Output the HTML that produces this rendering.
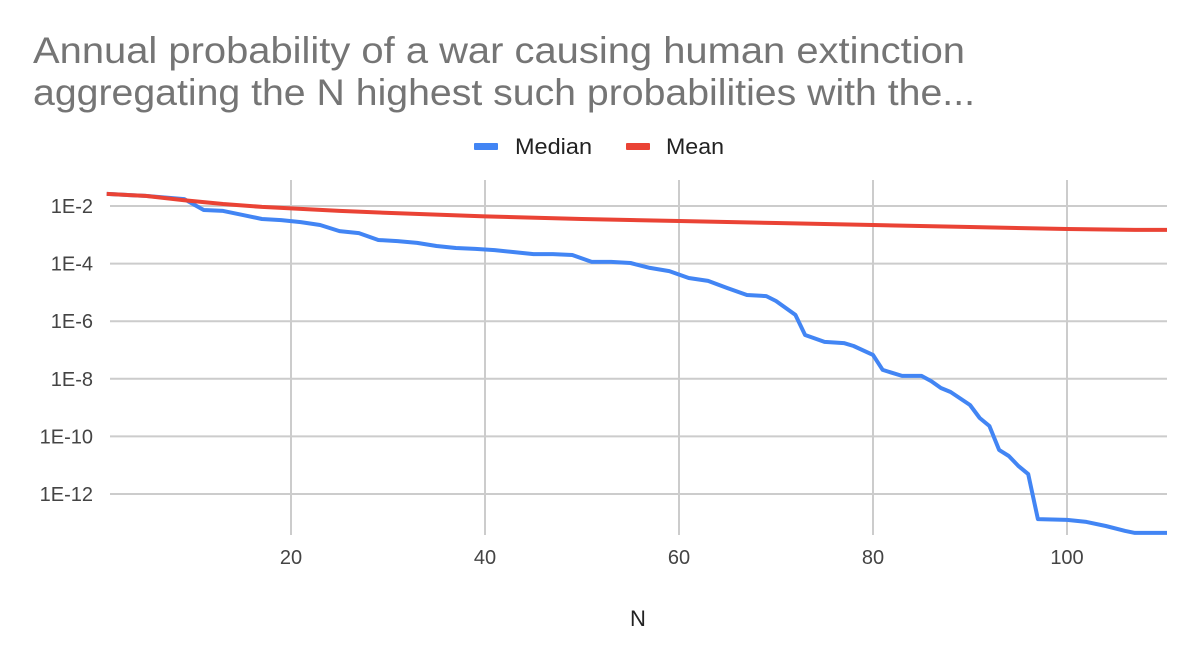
<!DOCTYPE html>
<html><head><meta charset="utf-8"><style>
body{margin:0;background:#fff;font-family:"Liberation Sans",Arial,sans-serif}
</style></head><body>
<svg id="c" width="1200" height="663" xmlns="http://www.w3.org/2000/svg">
<rect width="1200" height="663" fill="#fff"/>
<text x="33" y="63" font-size="37" fill="#757575" textLength="932" lengthAdjust="spacingAndGlyphs">Annual probability of a war causing human extinction</text>
<text x="33" y="105" font-size="37" fill="#757575" textLength="942" lengthAdjust="spacingAndGlyphs">aggregating the N highest such probabilities with the...</text>
<g>
<g><rect x="474" y="143" width="24" height="7" rx="1" fill="#4285f4"/><text x="515" y="154" font-size="22" fill="#222" textLength="77" lengthAdjust="spacingAndGlyphs">Median</text></g>
<g><rect x="626" y="143" width="24" height="7" rx="1" fill="#ea4335"/><text x="666" y="154" font-size="22" fill="#222" textLength="58" lengthAdjust="spacingAndGlyphs">Mean</text></g>
</g>
<g id="grid"></g><g id="axes"></g><g id="series"></g>
<text x="638" y="626" font-size="22" text-anchor="middle" fill="#222">N</text>
</svg>
<script>
const medianN=[1,5,9,11,13,15,17,19,21,23,25,27,29,31,33,35,37,39,41,43,45,47,49,51,53,55,57,59,61,63,65,67,69,70,72,73,75,77,78,80,81,83,85,86,87,88,90,91,92,93,94,95,96,97,100,102,104,106,107,111];
const medianLog10=[-1.58,-1.65,-1.76,-2.14,-2.17,-2.31,-2.45,-2.49,-2.56,-2.66,-2.87,-2.94,-3.18,-3.22,-3.28,-3.39,-3.46,-3.49,-3.53,-3.60,-3.67,-3.67,-3.70,-3.94,-3.94,-3.98,-4.15,-4.26,-4.50,-4.60,-4.85,-5.09,-5.13,-5.30,-5.78,-6.48,-6.72,-6.76,-6.86,-7.17,-7.69,-7.90,-7.90,-8.08,-8.32,-8.46,-8.91,-9.36,-9.64,-10.47,-10.68,-11.03,-11.31,-12.87,-12.90,-12.97,-13.11,-13.28,-13.35,-13.35];
const meanN=[1,5,9,13,17,21,25,30,40,50,60,70,80,90,100,107,111];
const meanLog10=[-1.58,-1.65,-1.80,-1.93,-2.03,-2.10,-2.17,-2.24,-2.36,-2.45,-2.52,-2.59,-2.66,-2.73,-2.80,-2.83,-2.83];
const xTicks=[20,40,60,80,100];
const yTicks=[-2,-4,-6,-8,-10,-12];
const yTickLabels=["1E-2","1E-4","1E-6","1E-8","1E-10","1E-12"];
const L=110,R=1167;
const xs=n=>97+9.7*n;
const ys=l=>206-(l+2)*28.8;
const NS="http://www.w3.org/2000/svg";
function mk(t,a,p){const e=document.createElementNS(NS,t);for(const k in a)e.setAttribute(k,a[k]);p.appendChild(e);return e;}
const grid=document.getElementById('grid'),axes=document.getElementById('axes'),ser=document.getElementById('series');
yTicks.forEach((t,i)=>{
 const g=mk('line',{x1:L,x2:R,y1:ys(t),y2:ys(t),stroke:'#cccccc','stroke-width':2},grid);
 
 
 const tx=mk('text',{x:93,y:ys(t)+7,'font-size':20,'text-anchor':'end',fill:'#444'},axes);
 tx.textContent=yTickLabels[i];
 
 
});
xTicks.forEach(t=>{
 const g=mk('line',{x1:xs(t),x2:xs(t),y1:180,y2:535,stroke:'#cccccc','stroke-width':2},grid);
 
 
 const tx=mk('text',{x:xs(t),y:564,'font-size':20,'text-anchor':'middle',fill:'#444'},axes);
 tx.textContent=t;
 
 
});
function line(ns,ls,col,name){
 const d=ns.map((n,i)=>(i?'L':'M')+Math.min(xs(n),R).toFixed(1)+','+ys(ls[i]).toFixed(1)).join('');
 const p=mk('path',{d:d,fill:'none',stroke:col,'stroke-width':4,'stroke-linejoin':'round'},ser);
 
 
}
line(medianN,medianLog10,'#4285f4','median-line');
line(meanN,meanLog10,'#ea4335','mean-line');
</script>
</body></html>
